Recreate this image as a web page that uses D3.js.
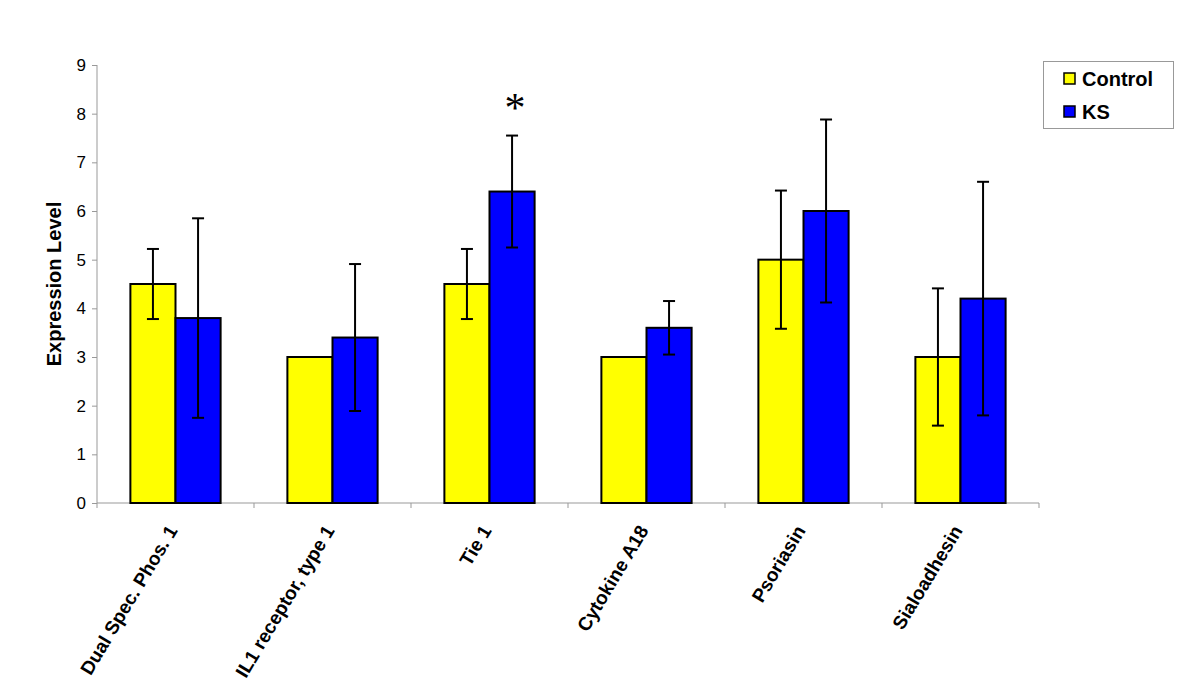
<!DOCTYPE html>
<html><head><meta charset="utf-8">
<script src="https://cdn.jsdelivr.net/npm/d3@7"></script>
<style>body{margin:0;background:#fff}svg{display:block}</style>
</head><body>
<script>
const categories = ["Dual Spec. Phos. 1","IL1 receptor, type 1","Tie 1","Cytokine A18","Psoriasin","Sialoadhesin"];
const seriesNames = ["Control","KS"];
const controlValues = [4.5, 3.0, 4.5, 3.0, 5.0, 3.0];
const controlErrors = [0.72, 0, 0.72, 0, 1.42, 1.41];
const ksValues = [3.8, 3.4, 6.4, 3.6, 6.0, 4.2];
const ksErrors = [2.05, 1.51, 1.15, 0.55, 1.88, 2.4];
const yTicks = [0,1,2,3,4,5,6,7,8,9];
const significant = ["Tie 1"];
const colors = ["#ffff00","#0000ff"];

const W=1200,H=684;
const FONT="Liberation Sans, Arial, sans-serif";
const svg=d3.select("body").append("svg").attr("width",W).attr("height",H);
const x0=d3.scaleBand().domain(categories).range([97,1039]).paddingInner(0).paddingOuter(0);
const x1=d3.scaleBand().domain(seriesNames).range([0,x0.bandwidth()]).paddingInner(0).paddingOuter(0.74);
const y=d3.scaleLinear().domain([0,9]).range([503,65]);

const data=categories.map((c,i)=>({cat:c,vals:[
  {s:"Control",v:controlValues[i],e:controlErrors[i],c:colors[0]},
  {s:"KS",v:ksValues[i],e:ksErrors[i],c:colors[1]}]}));

// axes
const yAxis=svg.append("g").attr("transform","translate(97,0)")
  .call(d3.axisLeft(y).tickValues(yTicks).tickSize(5).tickPadding(6));
yAxis.selectAll("path,line").attr("stroke","#999").attr("stroke-width",1);
yAxis.select(".domain").attr("d","M0,65V503");
yAxis.selectAll("text").attr("font-family",FONT).attr("font-size",17).attr("fill","#000");

const xAxis=svg.append("g").attr("transform","translate(0,503)");
xAxis.append("line").attr("x1",97).attr("x2",1039).attr("stroke","#999");
const edges=categories.map(c=>x0(c)).concat([x0(categories[categories.length-1])+x0.bandwidth()]);
xAxis.selectAll(".tk").data(edges).join("line").attr("x1",d=>d).attr("x2",d=>d).attr("y1",0).attr("y2",5).attr("stroke","#999");
xAxis.selectAll(".lbl").data(categories).join("text")
  .attr("transform",d=>`translate(${x0(d)+x0.bandwidth()/2-3},${24}) rotate(-59)`)
  .attr("text-anchor","end").attr("dy","0.35em")
  .attr("font-family",FONT).attr("font-weight","bold").attr("font-size",19)
  .text(d=>d);

// bars
const g=svg.append("g").selectAll("g").data(data).join("g").attr("transform",d=>`translate(${x0(d.cat)},0)`);
g.selectAll("rect").data(d=>d.vals).join("rect")
  .attr("x",d=>x1(d.s)).attr("width",x1.bandwidth())
  .attr("y",d=>y(d.v)).attr("height",d=>y(0)-y(d.v))
  .attr("fill",d=>d.c).attr("stroke","#000").attr("stroke-width",2);
const eb=g.selectAll(".eb").data(d=>d.vals.filter(v=>v.e>0)).join("g").attr("class","eb");
eb.append("line").attr("x1",d=>x1(d.s)+x1.bandwidth()/2).attr("x2",d=>x1(d.s)+x1.bandwidth()/2)
  .attr("y1",d=>y(d.v+d.e)).attr("y2",d=>y(d.v-d.e)).attr("stroke","#000").attr("stroke-width",2);
[1,-1].forEach(s=>{
  eb.append("line").attr("x1",d=>x1(d.s)+x1.bandwidth()/2-6).attr("x2",d=>x1(d.s)+x1.bandwidth()/2+6)
    .attr("y1",d=>y(d.v+s*d.e)).attr("y2",d=>y(d.v+s*d.e)).attr("stroke","#000").attr("stroke-width",2);
});

// significance
data.filter(d=>significant.includes(d.cat)).forEach(d=>{
  const k=d.vals[1];
  svg.append("text").attr("x",x0(d.cat)+x1("KS")+x1.bandwidth()/2+3).attr("y",y(k.v+k.e)-14)
    .attr("text-anchor","middle").attr("font-family","Liberation Serif, Times New Roman, serif").attr("font-size",42).text("*");
});

// y title
svg.append("text").attr("transform","translate(61,284) rotate(-90)").attr("text-anchor","middle")
  .attr("font-family",FONT).attr("font-weight","bold").attr("font-size",20).text("Expression Level");

// legend
const lg=svg.append("g");
lg.append("rect").attr("x",1043.5).attr("y",61.5).attr("width",130).attr("height",67).attr("fill","#fff").attr("stroke","#999");
seriesNames.forEach((s,i)=>{
  lg.append("rect").attr("x",1064).attr("y",73+i*33).attr("width",11).attr("height",11).attr("fill",colors[i]).attr("stroke","#000").attr("stroke-width",1.5);
  lg.append("text").attr("x",1082).attr("y",86+i*33).attr("font-family",FONT).attr("font-weight","bold").attr("font-size",20).text(s);
});
</script>
</body></html>
